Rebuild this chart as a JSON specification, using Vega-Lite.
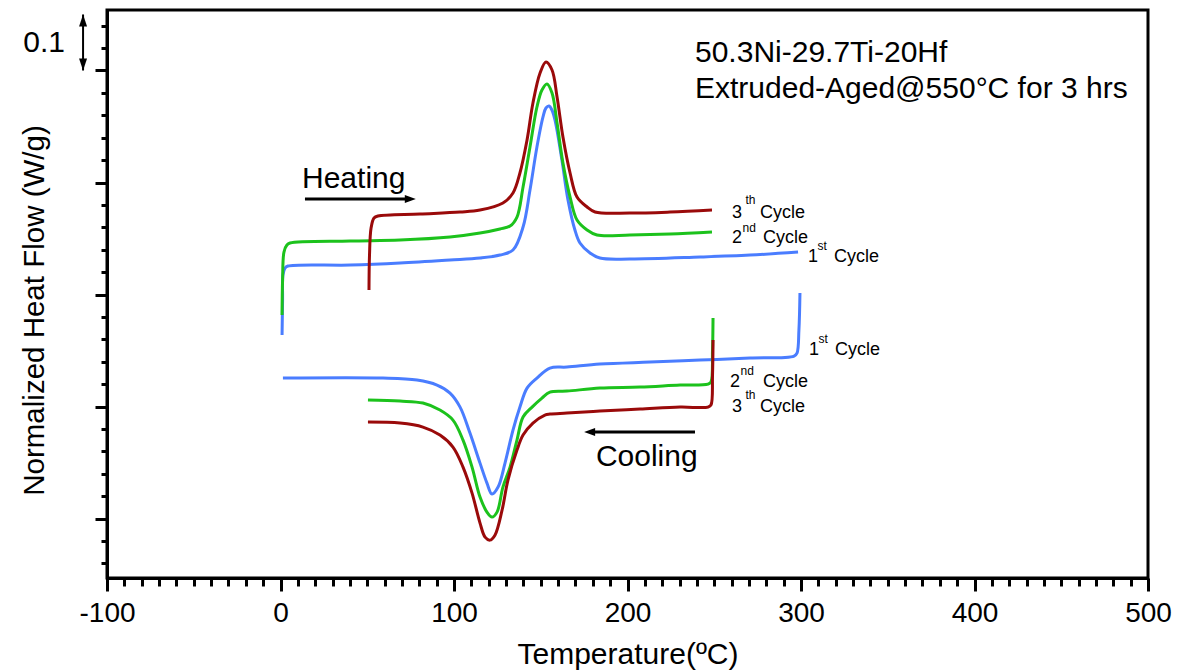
{
  "$schema": "https://vega.github.io/schema/vega-lite/v6.json",
  "width": 1041,
  "height": 568,
  "autosize": {"type": "none"},
  "padding": {"left": 107, "top": 10, "right": 33, "bottom": 94},
  "background": "white",
  "config": {
    "view": {"stroke": "black", "strokeWidth": 3},
    "axis": {
      "grid": false,
      "domainColor": "black",
      "domainWidth": 3,
      "tickColor": "black",
      "tickWidth": 3,
      "labelFont": "Liberation Sans",
      "titleFont": "Liberation Sans",
      "labelColor": "black",
      "titleColor": "black",
      "titleFontWeight": "normal",
      "labelFlush": false,
      "labelOverlap": false,
      "labelBound": false
    },
    "text": {"font": "Liberation Sans", "color": "black"}
  },
  "datasets": {
    "curves": [
      {"curve": "h1", "cycle": "1st", "i": 0, "T": 0.9, "v": 0.5277},
      {"curve": "h1", "cycle": "1st", "i": 1, "T": 1.2, "v": 0.5902},
      {"curve": "h1", "cycle": "1st", "i": 2, "T": 1.4, "v": 0.6348},
      {"curve": "h1", "cycle": "1st", "i": 3, "T": 2.6, "v": 0.6473},
      {"curve": "h1", "cycle": "1st", "i": 4, "T": 4.3, "v": 0.6509},
      {"curve": "h1", "cycle": "1st", "i": 5, "T": 40.1, "v": 0.6527},
      {"curve": "h1", "cycle": "1st", "i": 6, "T": 68.9, "v": 0.6563},
      {"curve": "h1", "cycle": "1st", "i": 7, "T": 97.7, "v": 0.6616},
      {"curve": "h1", "cycle": "1st", "i": 8, "T": 115.0, "v": 0.6652},
      {"curve": "h1", "cycle": "1st", "i": 9, "T": 126.5, "v": 0.6705},
      {"curve": "h1", "cycle": "1st", "i": 10, "T": 134.0, "v": 0.6795},
      {"curve": "h1", "cycle": "1st", "i": 11, "T": 139.8, "v": 0.7205},
      {"curve": "h1", "cycle": "1st", "i": 12, "T": 143.8, "v": 0.7866},
      {"curve": "h1", "cycle": "1st", "i": 13, "T": 147.8, "v": 0.8634},
      {"curve": "h1", "cycle": "1st", "i": 14, "T": 151.3, "v": 0.917},
      {"curve": "h1", "cycle": "1st", "i": 15, "T": 153.0, "v": 0.933},
      {"curve": "h1", "cycle": "1st", "i": 16, "T": 154.8, "v": 0.9366},
      {"curve": "h1", "cycle": "1st", "i": 17, "T": 156.5, "v": 0.929},
      {"curve": "h1", "cycle": "1st", "i": 18, "T": 158.2, "v": 0.9116},
      {"curve": "h1", "cycle": "1st", "i": 19, "T": 162.2, "v": 0.8402},
      {"curve": "h1", "cycle": "1st", "i": 20, "T": 165.7, "v": 0.7688},
      {"curve": "h1", "cycle": "1st", "i": 21, "T": 169.7, "v": 0.7152},
      {"curve": "h1", "cycle": "1st", "i": 22, "T": 172.6, "v": 0.692},
      {"curve": "h1", "cycle": "1st", "i": 23, "T": 178.4, "v": 0.6741},
      {"curve": "h1", "cycle": "1st", "i": 24, "T": 184.1, "v": 0.6652},
      {"curve": "h1", "cycle": "1st", "i": 25, "T": 201.4, "v": 0.6634},
      {"curve": "h1", "cycle": "1st", "i": 26, "T": 241.8, "v": 0.667},
      {"curve": "h1", "cycle": "1st", "i": 27, "T": 270.6, "v": 0.6705},
      {"curve": "h1", "cycle": "1st", "i": 28, "T": 298.3, "v": 0.6759},

      {"curve": "h2", "cycle": "2nd", "i": 0, "T": 0.9, "v": 0.5634},
      {"curve": "h2", "cycle": "2nd", "i": 1, "T": 1.2, "v": 0.6259},
      {"curve": "h2", "cycle": "2nd", "i": 2, "T": 2.0, "v": 0.6759},
      {"curve": "h2", "cycle": "2nd", "i": 3, "T": 3.7, "v": 0.6884},
      {"curve": "h2", "cycle": "2nd", "i": 4, "T": 5.5, "v": 0.692},
      {"curve": "h2", "cycle": "2nd", "i": 5, "T": 40.1, "v": 0.6955},
      {"curve": "h2", "cycle": "2nd", "i": 6, "T": 68.9, "v": 0.6973},
      {"curve": "h2", "cycle": "2nd", "i": 7, "T": 97.7, "v": 0.7027},
      {"curve": "h2", "cycle": "2nd", "i": 8, "T": 115.0, "v": 0.7098},
      {"curve": "h2", "cycle": "2nd", "i": 9, "T": 126.5, "v": 0.717},
      {"curve": "h2", "cycle": "2nd", "i": 10, "T": 132.3, "v": 0.7223},
      {"curve": "h2", "cycle": "2nd", "i": 11, "T": 136.3, "v": 0.7384},
      {"curve": "h2", "cycle": "2nd", "i": 12, "T": 139.8, "v": 0.792},
      {"curve": "h2", "cycle": "2nd", "i": 13, "T": 143.8, "v": 0.8634},
      {"curve": "h2", "cycle": "2nd", "i": 14, "T": 147.8, "v": 0.9348},
      {"curve": "h2", "cycle": "2nd", "i": 15, "T": 150.7, "v": 0.9652},
      {"curve": "h2", "cycle": "2nd", "i": 16, "T": 153.6, "v": 0.9759},
      {"curve": "h2", "cycle": "2nd", "i": 17, "T": 156.5, "v": 0.9598},
      {"curve": "h2", "cycle": "2nd", "i": 18, "T": 159.4, "v": 0.9063},
      {"curve": "h2", "cycle": "2nd", "i": 19, "T": 162.8, "v": 0.8348},
      {"curve": "h2", "cycle": "2nd", "i": 20, "T": 166.9, "v": 0.7741},
      {"curve": "h2", "cycle": "2nd", "i": 21, "T": 170.9, "v": 0.733},
      {"curve": "h2", "cycle": "2nd", "i": 22, "T": 176.7, "v": 0.7152},
      {"curve": "h2", "cycle": "2nd", "i": 23, "T": 182.4, "v": 0.7063},
      {"curve": "h2", "cycle": "2nd", "i": 24, "T": 201.4, "v": 0.7063},
      {"curve": "h2", "cycle": "2nd", "i": 25, "T": 224.5, "v": 0.708},
      {"curve": "h2", "cycle": "2nd", "i": 26, "T": 248.7, "v": 0.7116},

      {"curve": "h3", "cycle": "3rd", "i": 0, "T": 51.0, "v": 0.608},
      {"curve": "h3", "cycle": "3rd", "i": 1, "T": 51.3, "v": 0.6705},
      {"curve": "h3", "cycle": "3rd", "i": 2, "T": 52.2, "v": 0.7188},
      {"curve": "h3", "cycle": "3rd", "i": 3, "T": 53.9, "v": 0.7366},
      {"curve": "h3", "cycle": "3rd", "i": 4, "T": 56.2, "v": 0.7402},
      {"curve": "h3", "cycle": "3rd", "i": 5, "T": 80.4, "v": 0.7438},
      {"curve": "h3", "cycle": "3rd", "i": 6, "T": 103.5, "v": 0.7473},
      {"curve": "h3", "cycle": "3rd", "i": 7, "T": 115.0, "v": 0.7509},
      {"curve": "h3", "cycle": "3rd", "i": 8, "T": 128.2, "v": 0.7634},
      {"curve": "h3", "cycle": "3rd", "i": 9, "T": 134.0, "v": 0.7813},
      {"curve": "h3", "cycle": "3rd", "i": 10, "T": 138.0, "v": 0.817},
      {"curve": "h3", "cycle": "3rd", "i": 11, "T": 142.1, "v": 0.8759},
      {"curve": "h3", "cycle": "3rd", "i": 12, "T": 145.5, "v": 0.942},
      {"curve": "h3", "cycle": "3rd", "i": 13, "T": 149.6, "v": 0.9955},
      {"curve": "h3", "cycle": "3rd", "i": 14, "T": 153.0, "v": 1.0152},
      {"curve": "h3", "cycle": "3rd", "i": 15, "T": 156.5, "v": 1.0009},
      {"curve": "h3", "cycle": "3rd", "i": 16, "T": 159.4, "v": 0.9527},
      {"curve": "h3", "cycle": "3rd", "i": 17, "T": 162.8, "v": 0.8813},
      {"curve": "h3", "cycle": "3rd", "i": 18, "T": 166.9, "v": 0.817},
      {"curve": "h3", "cycle": "3rd", "i": 19, "T": 170.9, "v": 0.7741},
      {"curve": "h3", "cycle": "3rd", "i": 20, "T": 176.7, "v": 0.7563},
      {"curve": "h3", "cycle": "3rd", "i": 21, "T": 181.3, "v": 0.7473},
      {"curve": "h3", "cycle": "3rd", "i": 22, "T": 201.4, "v": 0.7455},
      {"curve": "h3", "cycle": "3rd", "i": 23, "T": 224.5, "v": 0.7473},
      {"curve": "h3", "cycle": "3rd", "i": 24, "T": 248.7, "v": 0.7509},

      {"curve": "c1", "cycle": "1st", "i": 0, "T": 299.4, "v": 0.6027},
      {"curve": "c1", "cycle": "1st", "i": 1, "T": 298.8, "v": 0.5366},
      {"curve": "c1", "cycle": "1st", "i": 2, "T": 297.7, "v": 0.4955},
      {"curve": "c1", "cycle": "1st", "i": 3, "T": 296.0, "v": 0.4902},
      {"curve": "c1", "cycle": "1st", "i": 4, "T": 270.6, "v": 0.4866},
      {"curve": "c1", "cycle": "1st", "i": 5, "T": 241.8, "v": 0.483},
      {"curve": "c1", "cycle": "1st", "i": 6, "T": 213.0, "v": 0.4795},
      {"curve": "c1", "cycle": "1st", "i": 7, "T": 184.1, "v": 0.4759},
      {"curve": "c1", "cycle": "1st", "i": 8, "T": 165.1, "v": 0.4705},
      {"curve": "c1", "cycle": "1st", "i": 9, "T": 155.3, "v": 0.4688},
      {"curve": "c1", "cycle": "1st", "i": 10, "T": 147.8, "v": 0.4509},
      {"curve": "c1", "cycle": "1st", "i": 11, "T": 142.1, "v": 0.433},
      {"curve": "c1", "cycle": "1st", "i": 12, "T": 138.0, "v": 0.3991},
      {"curve": "c1", "cycle": "1st", "i": 13, "T": 134.0, "v": 0.358},
      {"curve": "c1", "cycle": "1st", "i": 14, "T": 129.4, "v": 0.2991},
      {"curve": "c1", "cycle": "1st", "i": 15, "T": 125.4, "v": 0.2563},
      {"curve": "c1", "cycle": "1st", "i": 16, "T": 121.9, "v": 0.2438},
      {"curve": "c1", "cycle": "1st", "i": 17, "T": 119.0, "v": 0.2634},
      {"curve": "c1", "cycle": "1st", "i": 18, "T": 115.0, "v": 0.2991},
      {"curve": "c1", "cycle": "1st", "i": 19, "T": 109.2, "v": 0.3527},
      {"curve": "c1", "cycle": "1st", "i": 20, "T": 103.5, "v": 0.3991},
      {"curve": "c1", "cycle": "1st", "i": 21, "T": 97.7, "v": 0.4241},
      {"curve": "c1", "cycle": "1st", "i": 22, "T": 90.2, "v": 0.4384},
      {"curve": "c1", "cycle": "1st", "i": 23, "T": 78.7, "v": 0.4473},
      {"curve": "c1", "cycle": "1st", "i": 24, "T": 59.1, "v": 0.4509},
      {"curve": "c1", "cycle": "1st", "i": 25, "T": 1.4, "v": 0.4509},

      {"curve": "c2", "cycle": "2nd", "i": 0, "T": 249.3, "v": 0.558},
      {"curve": "c2", "cycle": "2nd", "i": 1, "T": 249.0, "v": 0.5009},
      {"curve": "c2", "cycle": "2nd", "i": 2, "T": 248.1, "v": 0.4438},
      {"curve": "c2", "cycle": "2nd", "i": 3, "T": 246.4, "v": 0.4402},
      {"curve": "c2", "cycle": "2nd", "i": 4, "T": 230.3, "v": 0.4384},
      {"curve": "c2", "cycle": "2nd", "i": 5, "T": 207.2, "v": 0.4348},
      {"curve": "c2", "cycle": "2nd", "i": 6, "T": 184.1, "v": 0.433},
      {"curve": "c2", "cycle": "2nd", "i": 7, "T": 165.1, "v": 0.4277},
      {"curve": "c2", "cycle": "2nd", "i": 8, "T": 155.3, "v": 0.4259},
      {"curve": "c2", "cycle": "2nd", "i": 9, "T": 150.7, "v": 0.4152},
      {"curve": "c2", "cycle": "2nd", "i": 10, "T": 145.0, "v": 0.3991},
      {"curve": "c2", "cycle": "2nd", "i": 11, "T": 139.8, "v": 0.3813},
      {"curve": "c2", "cycle": "2nd", "i": 12, "T": 136.3, "v": 0.3402},
      {"curve": "c2", "cycle": "2nd", "i": 13, "T": 132.3, "v": 0.292},
      {"curve": "c2", "cycle": "2nd", "i": 14, "T": 128.2, "v": 0.2563},
      {"curve": "c2", "cycle": "2nd", "i": 15, "T": 124.8, "v": 0.2116},
      {"curve": "c2", "cycle": "2nd", "i": 16, "T": 121.9, "v": 0.2027},
      {"curve": "c2", "cycle": "2nd", "i": 17, "T": 119.0, "v": 0.2116},
      {"curve": "c2", "cycle": "2nd", "i": 18, "T": 115.0, "v": 0.2384},
      {"curve": "c2", "cycle": "2nd", "i": 19, "T": 110.4, "v": 0.292},
      {"curve": "c2", "cycle": "2nd", "i": 20, "T": 105.2, "v": 0.3402},
      {"curve": "c2", "cycle": "2nd", "i": 21, "T": 99.4, "v": 0.3759},
      {"curve": "c2", "cycle": "2nd", "i": 22, "T": 91.9, "v": 0.3938},
      {"curve": "c2", "cycle": "2nd", "i": 23, "T": 82.1, "v": 0.4063},
      {"curve": "c2", "cycle": "2nd", "i": 24, "T": 68.9, "v": 0.4098},
      {"curve": "c2", "cycle": "2nd", "i": 25, "T": 50.4, "v": 0.4116},

      {"curve": "c3", "cycle": "3rd", "i": 0, "T": 249.3, "v": 0.5188},
      {"curve": "c3", "cycle": "3rd", "i": 1, "T": 249.0, "v": 0.4563},
      {"curve": "c3", "cycle": "3rd", "i": 2, "T": 248.1, "v": 0.4027},
      {"curve": "c3", "cycle": "3rd", "i": 3, "T": 246.4, "v": 0.3991},
      {"curve": "c3", "cycle": "3rd", "i": 4, "T": 230.3, "v": 0.3991},
      {"curve": "c3", "cycle": "3rd", "i": 5, "T": 207.2, "v": 0.3955},
      {"curve": "c3", "cycle": "3rd", "i": 6, "T": 184.1, "v": 0.392},
      {"curve": "c3", "cycle": "3rd", "i": 7, "T": 165.1, "v": 0.3884},
      {"curve": "c3", "cycle": "3rd", "i": 8, "T": 155.3, "v": 0.3866},
      {"curve": "c3", "cycle": "3rd", "i": 9, "T": 152.4, "v": 0.3848},
      {"curve": "c3", "cycle": "3rd", "i": 10, "T": 145.5, "v": 0.3705},
      {"curve": "c3", "cycle": "3rd", "i": 11, "T": 139.8, "v": 0.3491},
      {"curve": "c3", "cycle": "3rd", "i": 12, "T": 136.3, "v": 0.3223},
      {"curve": "c3", "cycle": "3rd", "i": 13, "T": 131.1, "v": 0.2688},
      {"curve": "c3", "cycle": "3rd", "i": 14, "T": 127.7, "v": 0.2152},
      {"curve": "c3", "cycle": "3rd", "i": 15, "T": 123.6, "v": 0.1705},
      {"curve": "c3", "cycle": "3rd", "i": 16, "T": 120.7, "v": 0.1616},
      {"curve": "c3", "cycle": "3rd", "i": 17, "T": 117.9, "v": 0.167},
      {"curve": "c3", "cycle": "3rd", "i": 18, "T": 115.0, "v": 0.192},
      {"curve": "c3", "cycle": "3rd", "i": 19, "T": 110.4, "v": 0.2455},
      {"curve": "c3", "cycle": "3rd", "i": 20, "T": 105.2, "v": 0.292},
      {"curve": "c3", "cycle": "3rd", "i": 21, "T": 99.4, "v": 0.3277},
      {"curve": "c3", "cycle": "3rd", "i": 22, "T": 91.9, "v": 0.3491},
      {"curve": "c3", "cycle": "3rd", "i": 23, "T": 82.1, "v": 0.3634},
      {"curve": "c3", "cycle": "3rd", "i": 24, "T": 68.9, "v": 0.3705},
      {"curve": "c3", "cycle": "3rd", "i": 25, "T": 50.4, "v": 0.3723}
    ],
    "notes": [
      {"T": 238.9, "v": 1.0152, "label": "50.3Ni-29.7Ti-20Hf"},
      {"T": 238.9, "v": 0.9509, "label": "Extruded-Aged@550°C for 3 hrs"},
      {"T": 12.4, "v": 0.7902, "label": "Heating"},
      {"T": 181.8, "v": 0.2938, "label": "Cooling"}
    ],
    "cycleText": [
      {"T": 260.2, "v": 0.7366, "label": "3"},
      {"T": 276.4, "v": 0.7366, "label": "Cycle"},
      {"T": 260.2, "v": 0.692, "label": "2"},
      {"T": 278.1, "v": 0.692, "label": "Cycle"},
      {"T": 304.0, "v": 0.658, "label": "1"},
      {"T": 319.0, "v": 0.658, "label": "Cycle"},
      {"T": 304.6, "v": 0.492, "label": "1"},
      {"T": 319.6, "v": 0.492, "label": "Cycle"},
      {"T": 259.1, "v": 0.4348, "label": "2"},
      {"T": 278.1, "v": 0.4348, "label": "Cycle"},
      {"T": 260.2, "v": 0.3902, "label": "3"},
      {"T": 276.4, "v": 0.3902, "label": "Cycle"}
    ],
    "cycleSup": [
      {"T": 268.0, "v": 0.7616, "label": "th"},
      {"T": 266.3, "v": 0.7116, "label": "nd"},
      {"T": 309.5, "v": 0.6795, "label": "st"},
      {"T": 310.1, "v": 0.5134, "label": "st"},
      {"T": 265.2, "v": 0.4563, "label": "nd"},
      {"T": 268.0, "v": 0.4134, "label": "th"}
    ],
    "scaleBar": [
      {"T": -113.8, "v": 1.0, "v2": 1.1}
    ],
    "scaleLabel": [
      {"T": -124.2, "v": 1.033, "label": "0.1"}
    ],
    "heatArrow": [
      {"T": 14.1, "T2": 72.0, "v": 0.7705}
    ],
    "heatHead": [
      {"T": 78.0, "v": 0.7705}
    ],
    "coolArrow": [
      {"T": 181.0, "T2": 238.9, "v": 0.3545}
    ],
    "coolHead": [
      {"T": 175.0, "v": 0.3545}
    ]
  },
  "encoding": {
    "x": {"field": "T", "type": "quantitative", "scale": {"domain": [-100, 500], "nice": false, "zero": false}, "axis": null},
    "y": {"field": "v", "type": "quantitative", "scale": {"domain": [0.094, 1.108], "nice": false, "zero": false}, "axis": null}
  },
  "layer": [
    {
      "data": {"name": "curves"},
      "mark": {"type": "line", "strokeWidth": 3, "interpolate": "catmull-rom"},
      "encoding": {
        "x": {
          "field": "T", "type": "quantitative",
          "scale": {"domain": [-100, 500], "nice": false, "zero": false},
          "axis": {
            "orient": "bottom",
            "values": [-100, 0, 100, 200, 300, 400, 500],
            "tickSize": 13,
            "labelFontSize": 28,
            "labelPadding": 8,
            "labelExpr": "replace(datum.label, '−', '-')",
            "title": "Temperature(ºC)",
            "titleFontSize": 30,
            "titlePadding": 12
          }
        },
        "y": {
          "field": "v", "type": "quantitative",
          "scale": {"domain": [0.094, 1.108], "nice": false, "zero": false},
          "axis": {
            "orient": "left",
            "values": [0.2, 0.4, 0.6, 0.8, 1.0],
            "tickSize": 12,
            "labels": false,
            "title": "Normalized Heat Flow (W/g)",
            "titleFontSize": 29.5,
            "titlePadding": 44,
            "titleY": 300
          }
        },
        "color": {
          "field": "cycle", "type": "nominal",
          "scale": {"domain": ["1st", "2nd", "3rd"], "range": ["#4A7DFF", "#1CC21C", "#9A0A0A"]},
          "legend": null
        },
        "detail": {"field": "curve"},
        "order": {"field": "i", "type": "quantitative"}
      }
    },
    {
      "data": {"name": "notes"},
      "mark": {"type": "text", "align": "left", "baseline": "alphabetic", "fontSize": 30},
      "encoding": {
        "x": {
          "field": "T", "type": "quantitative",
          "scale": {"domain": [-100, 500], "nice": false, "zero": false},
          "axis": {
            "orient": "bottom",
            "values": [-90, -80, -70, -60, -50, -40, -30, -20, -10, 10, 20, 30, 40, 50, 60, 70, 80, 90, 110, 120, 130, 140, 150, 160, 170, 180, 190, 210, 220, 230, 240, 250, 260, 270, 280, 290, 310, 320, 330, 340, 350, 360, 370, 380, 390, 410, 420, 430, 440, 450, 460, 470, 480, 490],
            "tickSize": 8,
            "labels": false,
            "domain": false,
            "title": null
          }
        },
        "y": {
          "field": "v", "type": "quantitative",
          "scale": {"domain": [0.094, 1.108], "nice": false, "zero": false},
          "axis": {
            "orient": "left",
            "values": [0.12, 0.16, 0.24, 0.28, 0.32, 0.36, 0.44, 0.48, 0.52, 0.56, 0.64, 0.68, 0.72, 0.76, 0.84, 0.88, 0.92, 0.96, 1.04, 1.08],
            "tickSize": 6,
            "labels": false,
            "domain": false,
            "title": null
          }
        },
        "text": {"field": "label"}
      }
    },
    {
      "data": {"name": "cycleText"},
      "mark": {"type": "text", "align": "left", "baseline": "alphabetic", "fontSize": 18},
      "encoding": {"text": {"field": "label"}}
    },
    {
      "data": {"name": "cycleSup"},
      "mark": {"type": "text", "align": "left", "baseline": "alphabetic", "fontSize": 12},
      "encoding": {"text": {"field": "label"}}
    },
    {
      "data": {"name": "scaleLabel"},
      "mark": {"type": "text", "align": "right", "baseline": "alphabetic", "fontSize": 30},
      "encoding": {"text": {"field": "label"}}
    },
    {
      "data": {"name": "scaleBar"},
      "mark": {"type": "rule", "color": "black", "strokeWidth": 2},
      "encoding": {"y2": {"field": "v2"}}
    },
    {
      "data": {"name": "scaleBar"},
      "mark": {"type": "point", "shape": "M0,0L0.4,1.2L-0.4,1.2Z", "filled": true, "size": 400, "color": "black", "opacity": 1},
      "encoding": {"y": {"field": "v2", "type": "quantitative", "scale": {"domain": [0.094, 1.108], "nice": false, "zero": false}, "axis": null}}
    },
    {
      "data": {"name": "scaleBar"},
      "mark": {"type": "point", "shape": "M0,0L0.4,-1.2L-0.4,-1.2Z", "filled": true, "size": 400, "color": "black", "opacity": 1}
    },
    {
      "data": {"name": "heatArrow"},
      "mark": {"type": "rule", "color": "black", "strokeWidth": 3},
      "encoding": {"x2": {"field": "T2"}}
    },
    {
      "data": {"name": "heatHead"},
      "mark": {"type": "point", "shape": "M0,0L-1.1,-0.4L-1.1,0.4Z", "filled": true, "size": 400, "color": "black", "opacity": 1}
    },
    {
      "data": {"name": "coolArrow"},
      "mark": {"type": "rule", "color": "black", "strokeWidth": 3},
      "encoding": {"x2": {"field": "T2"}}
    },
    {
      "data": {"name": "coolHead"},
      "mark": {"type": "point", "shape": "M0,0L1.1,-0.4L1.1,0.4Z", "filled": true, "size": 400, "color": "black", "opacity": 1}
    }
  ],
  "resolve": {"axis": {"x": "independent", "y": "independent"}}
}
